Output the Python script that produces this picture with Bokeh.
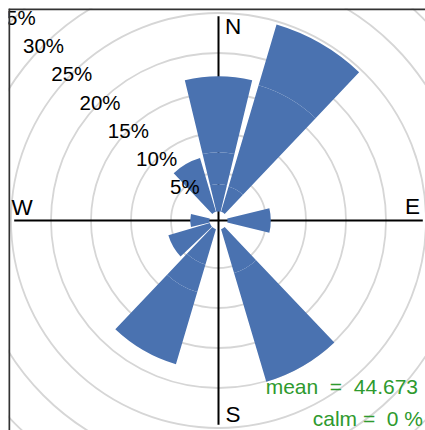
import numpy as np
from bokeh.plotting import figure
from bokeh.models import Range1d, Span, ColumnDataSource
from bokeh.core.properties import value
from bokeh.embed import file_html
from bokeh.resources import INLINE

# ---- data (percent frequency by direction, stacked wind-speed intervals) ----
directions = [0, 30, 60, 90, 120, 150, 180, 210, 240, 270, 300, 330]
ws1 = [3.6, 3.5, 0, 5.6, 0, 5.9, 0, 4.8, 5.6, 2.6, 0, 7.2]
ws2 = [4.0, 13.2, 0, 0, 0, 14.2, 0, 3.6, 0, 0, 0, 0]
ws3 = [9.5, 7.9, 0, 0, 0, 0, 0, 9.4, 0, 0, 0, 0]
ring_levels = [5, 10, 15, 20, 25, 30, 35]
ring_labels = ["5%", "10%", "15%", "20%", "25%", "30%", "35%"]
compass = ["N", "E", "S", "W"]
NB = "\u00a0"
mean_text = "mean" + NB * 2 + "=" + NB * 2 + "44.673"
calm_text = "calm" + NB + "=" + NB * 2 + "0" + NB + "%"

# ---- styling / geometry ----
FONT = "Liberation Sans"
BLUE = "#4A72B0"
GREEN = "#2E9A2E"
PX = 8.0                 # pixels per percent
W, H = 425, 430
ML, MT = 8, 8            # frame offset (panel starts here)
FW, FH = W - ML, H - MT
CX, CY = 210.0, 212.0    # centre in frame pixels
OFF = 7.5 / PX           # radial offset
INNER = 9.0 / PX
HALF = 13.5              # half-width of each sector (deg)

p = figure(width=W, height=H,
           x_range=Range1d(-CX / PX, (FW - CX) / PX),
           y_range=Range1d(-(FH - CY) / PX, CY / PX),
           output_backend="svg", toolbar_location=None,
           min_border_left=ML, min_border_top=MT,
           min_border_right=0, min_border_bottom=0,
           x_axis_location=None, y_axis_location=None)
p.grid.visible = False
p.outline_line_color = None
p.background_fill_color = "white"
p.border_fill_color = "white"

# grid rings
rr = [OFF + r for r in ring_levels]
p.circle(x=[0] * len(rr), y=[0] * len(rr), radius=rr,
         fill_color=None, line_color="#D6D6D6", line_width=1.8)

# axis lines
totals = [a + b + c for a, b, c in zip(ws1, ws2, ws3)]
L = OFF + max(totals)
p.segment(x0=[-L, 0], y0=[0, -L], x1=[L, 0], y1=[0, L],
          line_color="black", line_width=2)

# stacked wedges
xs, ys, ir, orr, sa, ea = [], [], [], [], [], []
for d, a, b, c in zip(directions, ws1, ws2, ws3):
    cum = 0.0
    for k, v in enumerate([a, b, c]):
        if v <= 0:
            continue
        inner = INNER if cum == 0 else OFF + cum
        cum += v
        xs.append(0); ys.append(0)
        ir.append(inner); orr.append(OFF + cum)
        sa.append(np.radians(90 - d - HALF)); ea.append(np.radians(90 - d + HALF))
src = ColumnDataSource(dict(x=xs, y=ys, ir=ir, orr=orr, sa=sa, ea=ea))
p.annular_wedge(x="x", y="y", inner_radius="ir", outer_radius="orr",
                start_angle="sa", end_angle="ea", source=src,
                fill_color=BLUE, line_color=None)

# ring labels along NW diagonal
s45 = np.sqrt(0.5)
p.text(x=[-r * s45 for r in rr], y=[r * s45 for r in rr], text=ring_labels,
       text_font=value(FONT), text_font_size="20.5px", text_color="black",
       text_align="center", text_baseline="middle")

# compass labels
p.text(x=[14.5 / PX, 194 / PX, 14.5 / PX, -196.5 / PX],
       y=[193.7 / PX, 14 / PX, -194 / PX, 13.5 / PX],
       text=compass, text_font=value(FONT), text_font_size="22.5px",
       text_color="black", text_align="center", text_baseline="middle")

# annotations
p.text(x=[(417.5 - 218) / PX], y=[(220 - 386) / PX], text=[mean_text],
       text_font=value(FONT), text_font_size="21px", text_color=GREEN,
       text_align="right", text_baseline="middle")
p.text(x=[(422.5 - 218) / PX], y=[(220 - 418.3) / PX], text=[calm_text],
       text_font=value(FONT), text_font_size="21px", text_color=GREEN,
       text_align="right", text_baseline="middle")

# panel border (left and top)
p.add_layout(Span(location=-CX / PX + 0.6 / PX, dimension="height",
                  line_color="#333333", line_width=2.2))
p.add_layout(Span(location=CY / PX - 0.6 / PX, dimension="width",
                  line_color="#333333", line_width=2.2))

open("out.html", "w").write(file_html(p, INLINE))
